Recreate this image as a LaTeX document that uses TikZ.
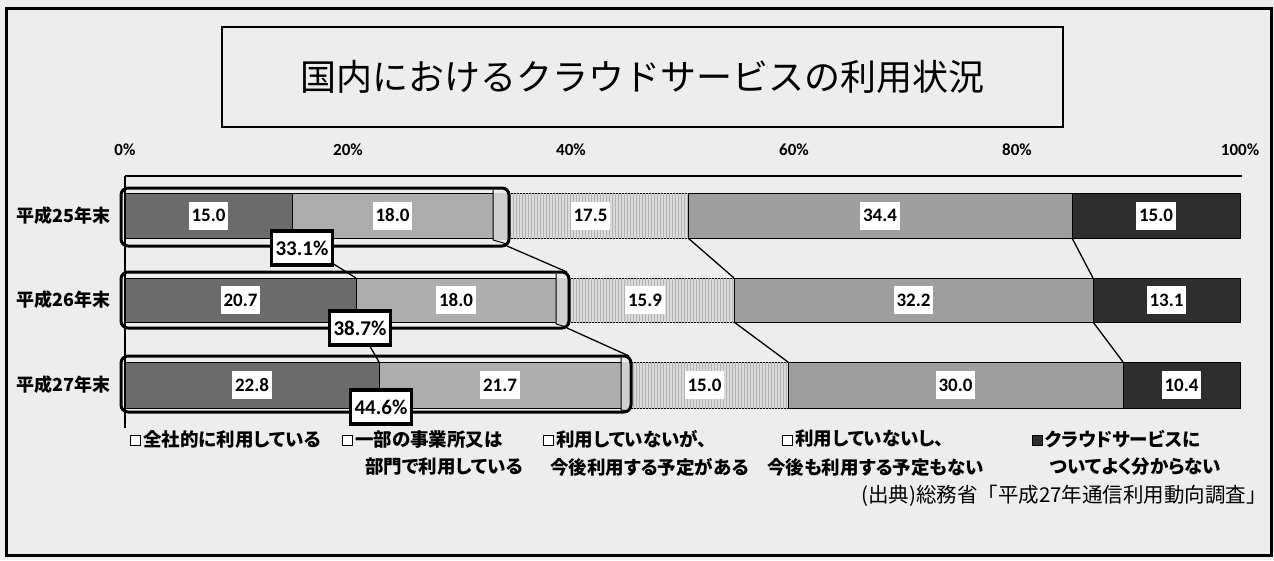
\documentclass[tikz,border=0pt]{standalone}
\usepackage{fontspec}
\newfontfamily\jp{Noto Sans CJK JP}
\newfontfamily\jpp[RawFeature=+palt]{Noto Sans CJK JP}
\newfontfamily\num{Carlito}
\usetikzlibrary{patterns}
\definecolor{bgc}{gray}{0.93}
\definecolor{cA}{gray}{0.42}
\definecolor{cB}{gray}{0.68}
\definecolor{cC}{gray}{0.86}
\definecolor{cD}{gray}{0.62}
\definecolor{cE}{gray}{0.18}
\begin{document}
\begin{tikzpicture}[x=1pt,y=-1pt,
  segA/.style={fill=cA,draw=black,line width=0.6pt},
  segB/.style={fill=cB,draw=black,line width=0.6pt},
  segC/.style={fill=cC,draw=black,line width=0.6pt,postaction={pattern=vertical lines,pattern color=black!30}},
  segD/.style={fill=cD,draw=black,line width=0.6pt},
  segE/.style={fill=cE,draw=black,line width=0.6pt},
  val/.style={fill=white,inner sep=3pt,minimum height=28pt,font=\num\bfseries\fontsize{19}{19}\selectfont},
  pct/.style={fill=white,draw=black,line width=3.2pt,inner sep=4pt,minimum height=34pt,font=\num\bfseries\fontsize{21}{21}\selectfont},
  hl/.style={draw=black,line width=3pt,rounded corners=7pt},
  series/.style={draw=black,line width=1.3pt},
  ylab/.style={anchor=east,font=\jpp\bfseries\fontsize{18}{18}\selectfont},
  tick/.style={font=\num\bfseries\fontsize{17}{17}\selectfont},
  lsq/.style={draw=black,line width=1pt,fill=white,minimum size=10pt,inner sep=0pt},
  ltext/.style={anchor=west,inner sep=0pt,font=\jpp\bfseries\fontsize{18.5}{18.5}\selectfont},
  titlebox/.style={draw=black,line width=1.2pt,fill=bgc,minimum width=841pt,minimum height=100pt,font=\jp\fontsize{36}{36}\selectfont}
]
\useasboundingbox (0,0) rectangle (1274,560);
\fill[bgc] (0,0) rectangle (1274,560);
\draw[line width=3pt] (6,8) rectangle (1271,555);

\node[titlebox] (title) at (642.5,77) {国内におけるクラウドサービスの利用状況};

% ticks
\foreach \p/\x in {0/125,20/348,40/571,60/794,80/1017,100/1240}
  \node[tick] (t\p) at (\x,150) {\p\%};

% axes
\coordinate (ax0) at (125,176);
\coordinate (ax1) at (1242,176);
\coordinate (ay1) at (125,428);
\draw[line width=2pt] (ax0) -- (ax1);
\draw[line width=1.5pt] (ax0) -- (ay1);

% connectors (behind)
\coordinate (r1a) at (292,238);  \coordinate (r2a) at (356,278);
\coordinate (r2ab) at (356,322); \coordinate (r3a) at (379,362);
\coordinate (r1c) at (688,238);  \coordinate (r2c) at (734,278);
\coordinate (r1d) at (1072,238); \coordinate (r2d) at (1093,278);
\coordinate (r2cb) at (734,322); \coordinate (r3c) at (788,362);
\coordinate (r2db) at (1093,322);\coordinate (r3d) at (1123,362);
\coordinate (h1) at (507,246);   \coordinate (h2t) at (567,272);
\coordinate (h2) at (567,328);   \coordinate (h3t) at (629,356);
\draw[series] (r1a) -- (r2a);
\draw[series] (r2ab) -- (r3a);
\draw[series] (r1c) -- (r2c);
\draw[series] (r1d) -- (r2d);
\draw[series] (r2cb) -- (r3c);
\draw[series] (r2db) -- (r3d);
\draw[series] (h1) -- (h2t);
\draw[series] (h2) -- (h3t);

% row 1
\path[segA] (125,193) rectangle (292,238);
\path[segB] (292,193) rectangle (493,238);
\path[segC] (493,193) rectangle (688,238);
\path[segD] (688,193) rectangle (1072,238);
\path[segE] (1072,193) rectangle (1240,238);
\node[val] (v11) at (208.5,215.5) {15.0};
\node[val] (v12) at (392.5,215.5) {18.0};
\node[val] (v13) at (590.5,215.5) {17.5};
\node[val] (v14) at (880,215.5) {34.4};
\node[val] (v15) at (1156,215.5) {15.0};
% row 2
\path[segA] (125,278) rectangle (356,322);
\path[segB] (356,278) rectangle (556,322);
\path[segC] (556,278) rectangle (734,322);
\path[segD] (734,278) rectangle (1093,322);
\path[segE] (1093,278) rectangle (1240,322);
\node[val] (v21) at (240.5,300) {20.7};
\node[val] (v22) at (456,300) {18.0};
\node[val] (v23) at (645,300) {15.9};
\node[val] (v24) at (913.5,300) {32.2};
\node[val] (v25) at (1166.5,300) {13.1};
% row 3
\path[segA] (125,362) rectangle (379,408);
\path[segB] (379,362) rectangle (621,408);
\path[segC] (621,362) rectangle (788,408);
\path[segD] (788,362) rectangle (1123,408);
\path[segE] (1123,362) rectangle (1240,408);
\node[val] (v31) at (252,385) {22.8};
\node[val] (v32) at (500,385) {21.7};
\node[val] (v33) at (704.5,385) {15.0};
\node[val] (v34) at (955.5,385) {30.0};
\node[val] (v35) at (1181.5,385) {10.4};

% highlight boxes
\fill[cB!60] (493,193) rectangle (507,240);
\draw[line width=1pt] (493,190) -- (493,240) -- (507,244);
\draw[hl] (121,188) rectangle (509,246);
\fill[cB!60] (556,278) rectangle (567,324);
\draw[line width=1pt] (556,274) -- (556,324) -- (567,327);
\draw[hl] (121,272) rectangle (569,328);
\fill[cB!60] (621,362) rectangle (629,410);
\draw[line width=1pt] (621,358) -- (621,410) -- (629,411);
\draw[hl] (121,356) rectangle (631,412);

% percentage boxes
\node[pct] (p1) at (302,248) {33.1\%};
\node[pct] (p2) at (360,328) {38.7\%};
\node[pct] (p3) at (381,407) {44.6\%};

% row labels
\node[ylab] (y1) at (114,216) {平成25年末};
\node[ylab] (y2) at (114,300) {平成26年末};
\node[ylab] (y3) at (114,385) {平成27年末};

% legend
\node[lsq] (s1) at (135,440) {};
\node[ltext] (l1) at (143,439) {全社的に利用している};
\node[lsq] (s2) at (347,440) {};
\node[ltext] (l2) at (355,439) {一部の事業所又は};
\node[ltext] (l2b) at (365,467) {部門で利用している};
\node[lsq] (s3) at (548,440) {};
\node[ltext] (l3) at (556,439) {利用していないが、};
\node[ltext] (l3b) at (550,467) {今後利用する予定がある};
\node[lsq] (s4) at (787,440) {};
\node[ltext] (l4) at (795,439) {利用していないし、};
\node[ltext] (l4b) at (767,467) {今後も利用する予定もない};
\node[lsq,fill=cE] (s5) at (1037,440) {};
\node[ltext] (l5) at (1045,439) {クラウドサービスに};
\node[ltext] (l5b) at (1050,467) {ついてよく分からない};

% source
\node[anchor=east,inner sep=0pt,font=\jp\fontsize{20.5}{20.5}\selectfont] (src) at (1267,496) {(出典)総務省「平成27年通信利用動向調査」};
\end{tikzpicture}
\end{document}
